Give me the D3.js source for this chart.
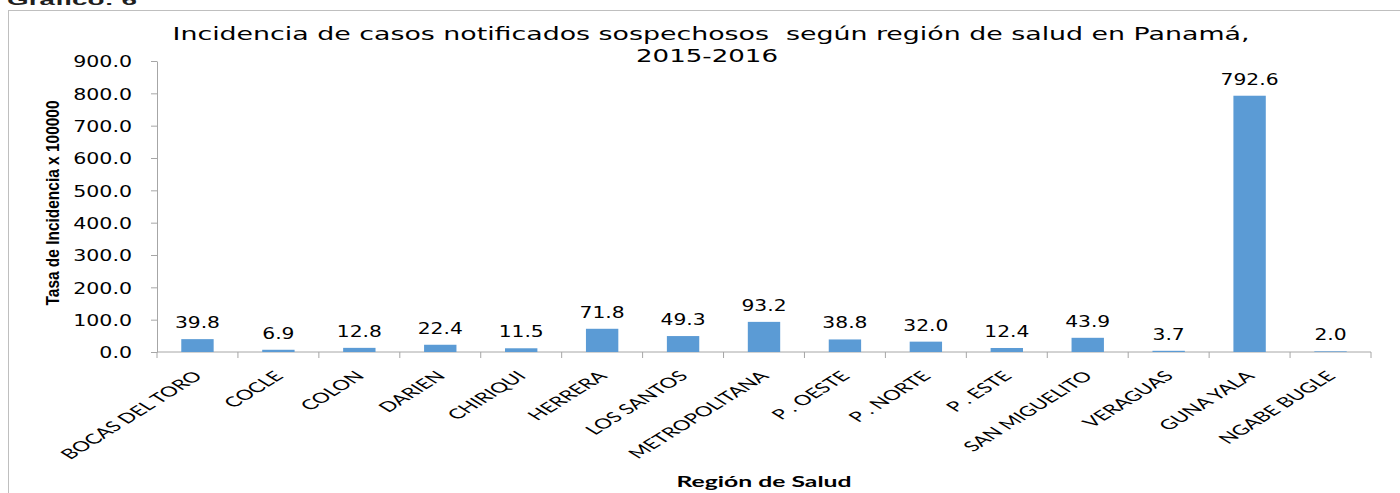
<!DOCTYPE html>
<html>
<head>
<meta charset="utf-8">
<script src="https://cdn.jsdelivr.net/npm/d3@7"></script>
<style>
  body { margin: 0; background: #fff; }
  svg { display: block; }
</style>
</head>
<body>
<div id="chart"></div>
<script>
// regiones y tasas
var regions = ["BOCAS DEL TORO", "COCLE", "COLON", "DARIEN", "CHIRIQUI", "HERRERA", "LOS SANTOS",
  "METROPOLITANA", "P . OESTE", "P . NORTE", "P . ESTE", "SAN MIGUELITO", "VERAGUAS", "GUNA YALA", "NGABE BUGLE"];
var rates = [39.8, 6.9, 12.8, 22.4, 11.5, 71.8, 49.3, 93.2, 38.8, 32.0, 12.4, 43.9, 3.7, 792.6, 2.0];
var yTicks = [0, 100, 200, 300, 400, 500, 600, 700, 800, 900];

var svgWidth = 1400, svgHeight = 493;
var margin = { top: 61, right: 29, bottom: 141, left: 157 };
var width = svgWidth - margin.left - margin.right;
var height = svgHeight - margin.top - margin.bottom;

// the reference picture is stretched sideways, so texts get widened to fit
function widen(sel, k) {
  sel.each(function() {
    var w = this.getComputedTextLength();
    d3.select(this).attr("textLength", w * k).attr("lengthAdjust", "spacingAndGlyphs");
  });
}

var svg = d3.select("#chart").append("svg")
  .attr("width", svgWidth)
  .attr("height", svgHeight);

// outer chart border (only top/left visible)
svg.append("rect")
  .attr("x", 8.5).attr("y", 10.5)
  .attr("width", 1500).attr("height", 600)
  .attr("fill", "none").attr("stroke", "#bfbfbf");

// caption, cut off at the top like in the picture
svg.append("text")
  .attr("x", 7).attr("y", 5)
  .attr("font-family", "Liberation Sans").attr("font-weight", "bold")
  .attr("font-size", 15).attr("fill", "#1f1f1f")
  .attr("textLength", 130).attr("lengthAdjust", "spacingAndGlyphs")
  .text("Gráfico: 6");

// title
svg.append("text")
  .attr("x", 711).attr("y", 40)
  .attr("text-anchor", "middle")
  .style("white-space", "pre")
  .attr("font-family", "DejaVu Sans").attr("font-size", 17)
  .attr("fill", "#000")
  .attr("textLength", 1077).attr("lengthAdjust", "spacingAndGlyphs")
  .text("Incidencia de casos notificados sospechosos  según región de salud en Panamá,");
svg.append("text")
  .attr("x", 707).attr("y", 62)
  .attr("text-anchor", "middle")
  .attr("font-family", "DejaVu Sans").attr("font-size", 17)
  .attr("fill", "#000")
  .attr("textLength", 142).attr("lengthAdjust", "spacingAndGlyphs")
  .text("2015-2016");

var g = svg.append("g").attr("transform", `translate(${margin.left}, ${margin.top})`);

var x = d3.scaleBand().domain(regions).range([0, width]).paddingInner(0.6).paddingOuter(0.3);
var xOuter = d3.scaleBand().domain(regions).range([0, width]);
var y = d3.scaleLinear().domain([0, 900]).range([height, 0]);

// y axis
var yAxis = g.append("g")
  .call(d3.axisLeft(y).tickValues(yTicks).tickFormat(d3.format(".1f")).tickSize(6).tickSizeOuter(0));
yAxis.select(".domain").attr("stroke", "#a6a6a6");
yAxis.selectAll(".tick line").attr("stroke", "#a6a6a6");
yAxis.selectAll(".tick text")
  .attr("x", -25)
  .attr("dy", "0.38em")
  .attr("font-family", "DejaVu Sans").attr("font-size", 15)
  .attr("fill", "#000")
  .call(widen, 1.37);

// x axis with ticks at category boundaries
var xAxisG = g.append("g").attr("transform", `translate(0, ${height})`);
xAxisG.append("line")
  .attr("x1", 0).attr("x2", width)
  .attr("stroke", "#a6a6a6");
xAxisG.selectAll(".xtick")
  .data(d3.range(regions.length + 1))
  .enter().append("line")
  .attr("x1", i => i * xOuter.step()).attr("x2", i => i * xOuter.step())
  .attr("y1", 0).attr("y2", 6)
  .attr("stroke", "#a6a6a6");

xAxisG.selectAll(".xlabel")
  .data(regions)
  .enter().append("text")
  .attr("transform", d => `translate(${xOuter(d) + xOuter.bandwidth() / 2 + 6}, 25) scale(1.6, 1) rotate(-45)`)
  .attr("text-anchor", "end")
  .attr("font-family", "Lato").attr("font-size", 14)
  .attr("fill", "#000")
  .text(d => d);

// bars
g.selectAll(".bar")
  .data(rates)
  .enter().append("rect")
  .attr("x", (d, i) => x(regions[i]))
  .attr("y", d => y(d))
  .attr("width", x.bandwidth())
  .attr("height", d => height - y(d))
  .attr("fill", "#5b9bd5");

// data labels
g.selectAll(".lbl")
  .data(rates)
  .enter().append("text")
  .attr("x", (d, i) => x(regions[i]) + x.bandwidth() / 2)
  .attr("y", d => y(d) - 11)
  .attr("text-anchor", "middle")
  .attr("font-family", "DejaVu Sans").attr("font-size", 15)
  .attr("fill", "#000")
  .text(d => d.toFixed(1))
  .call(widen, 1.35);

// axis titles
svg.append("text")
  .attr("transform", "translate(59, 203) scale(1.45, 1) rotate(-90)")
  .attr("text-anchor", "middle")
  .attr("font-family", "Liberation Sans").attr("font-weight", "bold")
  .attr("font-size", 13).attr("fill", "#000")
  .attr("textLength", 205).attr("lengthAdjust", "spacingAndGlyphs")
  .text("Tasa de Incidencia x 100000");

svg.append("text")
  .attr("x", 764).attr("y", 487)
  .attr("text-anchor", "middle")
  .attr("font-family", "Lato").attr("font-weight", "bold")
  .attr("font-size", 15).attr("fill", "#000")
  .attr("textLength", 175).attr("lengthAdjust", "spacingAndGlyphs")
  .text("Región de Salud");
</script>
</body>
</html>
